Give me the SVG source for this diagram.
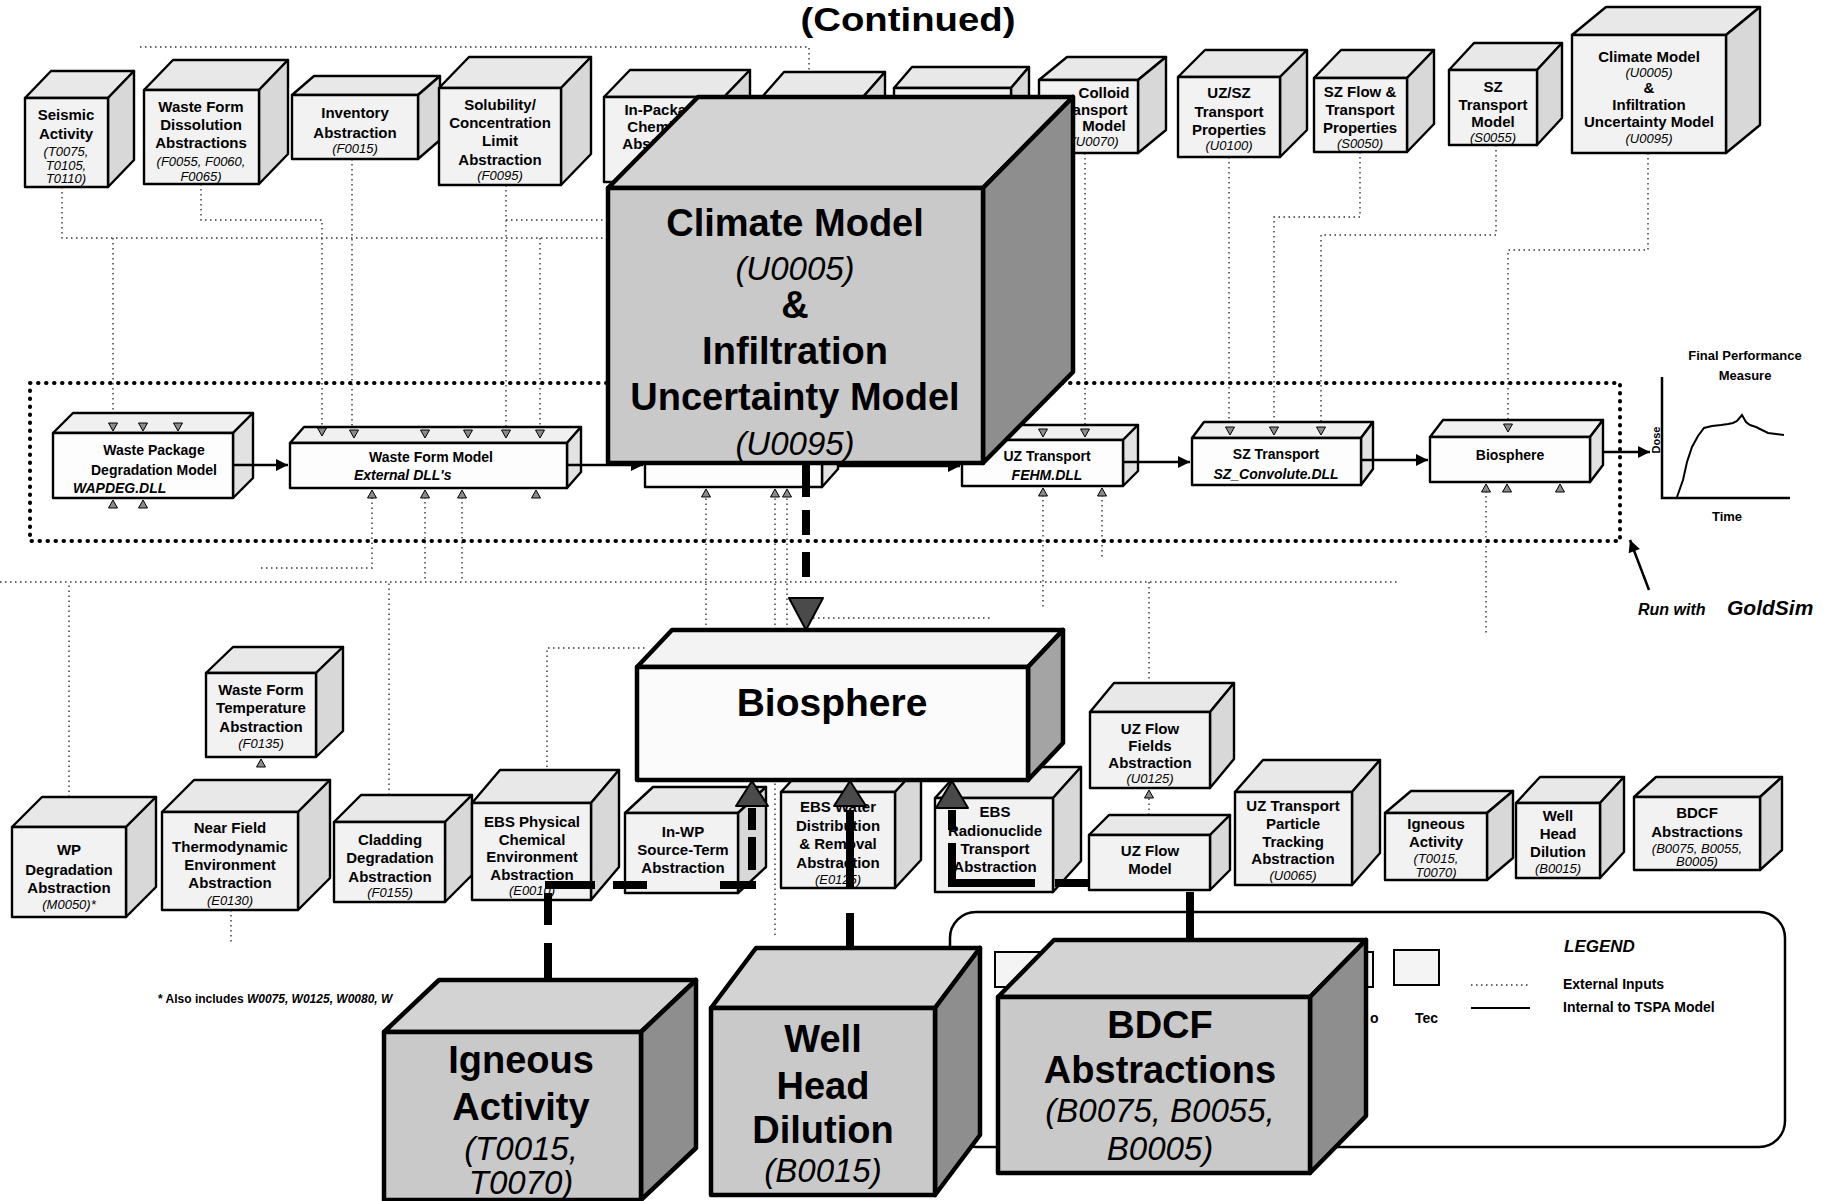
<svg xmlns="http://www.w3.org/2000/svg" width="1833" height="1201" viewBox="0 0 1833 1201">
<style>
text{font-family:"Liberation Sans",Arial,sans-serif;fill:#000}
.l{font-size:15px;font-weight:bold;text-anchor:middle}
.c{font-size:13px;font-style:italic;text-anchor:middle}
.m{font-size:14px;font-weight:bold}
.mi{font-size:14px;font-weight:bold;font-style:italic}
.B{font-size:38px;font-weight:bold;text-anchor:middle}
.Bi{font-size:33px;font-style:italic;text-anchor:middle}
.sf{fill:#f2f2f2;stroke:#000;stroke-width:2.4;stroke-linejoin:round}
.st{fill:#e8e8e8;stroke:#000;stroke-width:2.4;stroke-linejoin:round}
.ss{fill:#d8d8d8;stroke:#000;stroke-width:2.4;stroke-linejoin:round}
.mf{fill:#fdfdfd;stroke:#000;stroke-width:2.4;stroke-linejoin:round}
.mt{fill:#f0f0f0;stroke:#000;stroke-width:2.4;stroke-linejoin:round}
.ms{fill:#e2e2e2;stroke:#000;stroke-width:2.4;stroke-linejoin:round}
.gf{fill:#c9c9c9;stroke:#000;stroke-width:4.5;stroke-linejoin:round}
.gt{fill:#d3d3d3;stroke:#000;stroke-width:4.5;stroke-linejoin:round}
.gs{fill:#8e8e8e;stroke:#000;stroke-width:4.5;stroke-linejoin:round}
.wf{fill:#fbfbfb;stroke:#000;stroke-width:4.5;stroke-linejoin:round}
.wt{fill:#f3f3f3;stroke:#000;stroke-width:4.5;stroke-linejoin:round}
.ws{fill:#a4a4a4;stroke:#000;stroke-width:4.5;stroke-linejoin:round}
.dot{fill:none;stroke:#333;stroke-width:1.4;stroke-dasharray:1.5 3.5}
.gsb{fill:none;stroke:#000;stroke-width:4;stroke-dasharray:0.5 7.5;stroke-linecap:round}
.thk{fill:none;stroke:#000;stroke-width:8}
.ar{fill:none;stroke:#000;stroke-width:2.5}
.ah{fill:#4a4a4a;stroke:#000;stroke-width:2;stroke-linejoin:round}
.tri{fill:#8a8a8a;stroke:#000;stroke-width:1}
</style>
<defs>
<marker id="arr" viewBox="0 0 10 10" refX="10" refY="5" markerWidth="13" markerHeight="12" markerUnits="userSpaceOnUse" orient="auto"><path d="M0,0 L10,5 L0,10 Z" fill="#000"/></marker>
<path id="td" d="M-4.5,-8 L4.5,-8 L0,0 Z"/>
<path id="tu" d="M-4.5,8 L4.5,8 L0,0 Z"/>
</defs>
<rect width="1833" height="1201" fill="#fff"/>

<g id="title"><text x="908" y="31" font-size="34" font-weight="bold" text-anchor="middle" textLength="215" lengthAdjust="spacingAndGlyphs">(Continued)</text></g>

<!-- external input connectors (dotted) -->
<g id="external-connectors">
<path class="dot" d="M140,47 H809 V97"/>
<path class="dot" d="M62,187 V238 H607"/>
<path class="dot" d="M113,238 V422"/>
<path class="dot" d="M201,184 V220 H322 V428"/>
<path class="dot" d="M352,159 V428"/>
<path class="dot" d="M506,185 V428"/>
<path class="dot" d="M506,220 H607"/>
<path class="dot" d="M540,238 V428"/>
<path class="dot" d="M1085,153 V428"/>
<path class="dot" d="M1229,157 V427"/>
<path class="dot" d="M1360,152 V217 H1274 V427"/>
<path class="dot" d="M1496,145 V235 H1321 V427"/>
<path class="dot" d="M1648,153 V250 H1508 V424"/>
<path class="dot" d="M0,582 H1400"/>
<path class="dot" d="M261,568 H372 V492"/>
<path class="dot" d="M425,492 V582"/>
<path class="dot" d="M462,492 V582"/>
<path class="dot" d="M69,797 V582"/>
<path class="dot" d="M231,910 V945"/>
<path class="dot" d="M389,795 V582"/>
<path class="dot" d="M547,797 V648 H647"/>
<path class="dot" d="M706,630 V491"/>
<path class="dot" d="M775,935 V491"/>
<path class="dot" d="M787,630 V491"/>
<path class="dot" d="M813,618 H993"/>
<path class="dot" d="M1043,490 V607"/>
<path class="dot" d="M1102,490 V560"/>
<path class="dot" d="M1486,486 V633"/>
<path class="dot" d="M1149,582 V712"/>
<path class="dot" d="M1149,815 V798"/>
</g>

<g id="goldsim-boundary"><rect class="gsb" x="30" y="383" width="1590" height="158"/></g>

<!-- top row input boxes -->
<g id="seismic-activity">
<path class="st" d="M25,98 L51,71 L134,71 L108,98 Z"/>
<path class="ss" d="M108,98 L134,71 L134,160 L108,187 Z"/>
<rect class="sf" x="25" y="98" width="83" height="89"/>
<text class="l" x="66" y="120">Seismic</text>
<text class="l" x="66" y="139">Activity</text>
<text class="c" x="66" y="156">(T0075,</text>
<text class="c" x="66" y="170">T0105,</text>
<text class="c" x="66" y="183">T0110)</text>
</g>
<g id="waste-form-dissolution">
<path class="st" d="M144,90 L173,60 L288,60 L259,90 Z"/>
<path class="ss" d="M259,90 L288,60 L288,154 L259,184 Z"/>
<rect class="sf" x="144" y="90" width="115" height="94"/>
<text class="l" x="201" y="112">Waste Form</text>
<text class="l" x="201" y="130">Dissolution</text>
<text class="l" x="201" y="148">Abstractions</text>
<text class="c" x="201" y="166">(F0055, F0060,</text>
<text class="c" x="201" y="181">F0065)</text>
</g>
<g id="inventory-abstraction">
<path class="st" d="M292,95 L314,76 L440,76 L418,95 Z"/>
<path class="ss" d="M418,95 L440,76 L440,140 L418,159 Z"/>
<rect class="sf" x="292" y="95" width="126" height="64"/>
<text class="l" x="355" y="118">Inventory</text>
<text class="l" x="355" y="138">Abstraction</text>
<text class="c" x="355" y="153">(F0015)</text>
</g>
<g id="solubility-abstraction">
<path class="st" d="M439,88 L469,57 L591,57 L561,88 Z"/>
<path class="ss" d="M561,88 L591,57 L591,154 L561,185 Z"/>
<rect class="sf" x="439" y="88" width="122" height="97"/>
<text class="l" x="500" y="110">Solubility/</text>
<text class="l" x="500" y="128">Concentration</text>
<text class="l" x="500" y="146">Limit</text>
<text class="l" x="500" y="165">Abstraction</text>
<text class="c" x="500" y="180">(F0095)</text>
</g>
<g id="in-package-chemistry">
<path class="st" d="M604,97 L630,70 L750,70 L724,97 Z"/>
<path class="ss" d="M724,97 L750,70 L750,155 L724,182 Z"/>
<rect class="sf" x="604" y="97" width="120" height="85"/>
<text class="l" x="664" y="115">In-Package</text>
<text class="l" x="664" y="132">Chemistry</text>
<text class="l" x="664" y="149">Abstraction</text>
</g>
<g id="hidden-box-a">
<path class="st" d="M762,97 L784,72 L885,72 L863,97 Z"/>
<path class="ss" d="M863,97 L885,72 L885,155 L863,180 Z"/>
<rect class="sf" x="762" y="97" width="101" height="83"/>
</g>
<g id="hidden-box-b">
<path class="st" d="M894,88 L912,67 L1029,67 L1011,88 Z"/>
<path class="ss" d="M1011,88 L1029,67 L1029,149 L1011,170 Z"/>
<rect class="sf" x="894" y="88" width="117" height="82"/>
</g>
<g id="colloid-transport">
<path class="st" d="M1039,80 L1067,57 L1166,57 L1138,80 Z"/>
<path class="ss" d="M1138,80 L1166,57 L1166,130 L1138,153 Z"/>
<rect class="sf" x="1039" y="80" width="99" height="73"/>
<text class="l" x="1104" y="98">Colloid</text>
<text class="l" x="1093" y="115">Transport</text>
<text class="l" x="1104" y="131">Model</text>
<text class="c" x="1095" y="146">(U0070)</text>
</g>
<g id="uz-sz-transport-properties">
<path class="st" d="M1178,77 L1205,50 L1307,50 L1280,77 Z"/>
<path class="ss" d="M1280,77 L1307,50 L1307,130 L1280,157 Z"/>
<rect class="sf" x="1178" y="77" width="102" height="80"/>
<text class="l" x="1229" y="98">UZ/SZ</text>
<text class="l" x="1229" y="117">Transport</text>
<text class="l" x="1229" y="135">Properties</text>
<text class="c" x="1229" y="150">(U0100)</text>
</g>
<g id="sz-flow-transport-properties">
<path class="st" d="M1314,78 L1341,50 L1434,50 L1407,78 Z"/>
<path class="ss" d="M1407,78 L1434,50 L1434,124 L1407,152 Z"/>
<rect class="sf" x="1314" y="78" width="93" height="74"/>
<text class="l" x="1360" y="97">SZ Flow &amp;</text>
<text class="l" x="1360" y="115">Transport</text>
<text class="l" x="1360" y="133">Properties</text>
<text class="c" x="1360" y="148">(S0050)</text>
</g>
<g id="sz-transport-model">
<path class="st" d="M1449,70 L1474,43 L1562,43 L1537,70 Z"/>
<path class="ss" d="M1537,70 L1562,43 L1562,118 L1537,145 Z"/>
<rect class="sf" x="1449" y="70" width="88" height="75"/>
<text class="l" x="1493" y="92">SZ</text>
<text class="l" x="1493" y="110">Transport</text>
<text class="l" x="1493" y="127">Model</text>
<text class="c" x="1493" y="142">(S0055)</text>
</g>
<g id="climate-model-small">
<path class="st" d="M1572,35 L1606,7 L1760,7 L1726,35 Z"/>
<path class="ss" d="M1726,35 L1760,7 L1760,125 L1726,153 Z"/>
<rect class="sf" x="1572" y="35" width="154" height="118"/>
<text class="l" x="1649" y="62">Climate Model</text>
<text class="c" x="1649" y="77">(U0005)</text>
<text class="l" x="1649" y="93">&amp;</text>
<text class="l" x="1649" y="110">Infiltration</text>
<text class="l" x="1649" y="127">Uncertainty Model</text>
<text class="c" x="1649" y="143">(U0095)</text>
</g>

<!-- GoldSim model boxes -->
<g id="waste-package-degradation-model">
<path class="mt" d="M53,433 L73,413 L253,413 L233,433 Z"/>
<path class="ms" d="M233,433 L253,413 L253,478 L233,498 Z"/>
<rect class="mf" x="53" y="433" width="180" height="65"/>
<text class="m" x="154" y="455" text-anchor="middle">Waste Package</text>
<text class="m" x="154" y="475" text-anchor="middle">Degradation Model</text>
<text class="mi" x="73" y="493">WAPDEG.DLL</text>
</g>
<g id="waste-form-model">
<path class="mt" d="M290,443 L304,427 L581,427 L567,443 Z"/>
<path class="ms" d="M567,443 L581,427 L581,472 L567,488 Z"/>
<rect class="mf" x="290" y="443" width="277" height="45"/>
<text class="m" x="431" y="462" text-anchor="middle">Waste Form Model</text>
<text class="mi" x="354" y="480">External DLL's</text>
</g>
<g id="hidden-model-box">
<path class="mt" d="M645,445 L661,427 L838,427 L822,445 Z"/>
<path class="ms" d="M822,445 L838,427 L838,469 L822,487 Z"/>
<rect class="mf" x="645" y="445" width="177" height="42"/>
</g>
<g id="uz-transport">
<path class="mt" d="M962,440 L977,425 L1138,425 L1123,440 Z"/>
<path class="ms" d="M1123,440 L1138,425 L1138,471 L1123,486 Z"/>
<rect class="mf" x="962" y="440" width="161" height="46"/>
<text class="m" x="1047" y="461" text-anchor="middle">UZ Transport</text>
<text class="mi" x="1047" y="480" text-anchor="middle">FEHM.DLL</text>
</g>
<g id="sz-transport">
<path class="mt" d="M1192,438 L1204,422 L1373,422 L1361,438 Z"/>
<path class="ms" d="M1361,438 L1373,422 L1373,469 L1361,485 Z"/>
<rect class="mf" x="1192" y="438" width="169" height="47"/>
<text class="m" x="1276" y="459" text-anchor="middle">SZ Transport</text>
<text class="mi" x="1276" y="479" text-anchor="middle">SZ_Convolute.DLL</text>
</g>
<g id="biosphere-model">
<path class="mt" d="M1430,437 L1443,420 L1603,420 L1590,437 Z"/>
<path class="ms" d="M1590,437 L1603,420 L1603,465 L1590,482 Z"/>
<rect class="mf" x="1430" y="437" width="160" height="45"/>
<text class="m" x="1510" y="460" text-anchor="middle">Biosphere</text>
</g>

<g id="input-arrowheads">
<use href="#td" class="tri" x="113" y="431"/><use href="#td" class="tri" x="143" y="431"/><use href="#td" class="tri" x="178" y="431"/>
<use href="#tu" class="tri" x="113" y="500"/><use href="#tu" class="tri" x="143" y="500"/>
<use href="#td" class="tri" x="322" y="436"/><use href="#td" class="tri" x="354" y="438"/><use href="#td" class="tri" x="425" y="438"/><use href="#td" class="tri" x="468" y="438"/><use href="#td" class="tri" x="506" y="438"/><use href="#td" class="tri" x="540" y="438"/>
<use href="#tu" class="tri" x="372" y="490"/><use href="#tu" class="tri" x="425" y="490"/><use href="#tu" class="tri" x="462" y="490"/><use href="#tu" class="tri" x="536" y="490"/>
<use href="#tu" class="tri" x="706" y="489"/><use href="#tu" class="tri" x="775" y="489"/><use href="#tu" class="tri" x="787" y="489"/>
<use href="#td" class="tri" x="1043" y="437"/><use href="#td" class="tri" x="1085" y="437"/>
<use href="#tu" class="tri" x="1043" y="488"/><use href="#tu" class="tri" x="1102" y="488"/>
<use href="#td" class="tri" x="1230" y="435"/><use href="#td" class="tri" x="1274" y="435"/><use href="#td" class="tri" x="1321" y="435"/>
<use href="#td" class="tri" x="1508" y="432"/>
<use href="#tu" class="tri" x="1486" y="484"/><use href="#tu" class="tri" x="1507" y="484"/><use href="#tu" class="tri" x="1560" y="484"/>
<use href="#tu" class="tri" x="261" y="759"/>
<use href="#tu" class="tri" x="1149" y="790"/>
</g>

<g id="model-flow">
<path class="ar" d="M233,465 H288" marker-end="url(#arr)"/>
<path class="ar" d="M567,465 H643" marker-end="url(#arr)"/>
<path class="ar" d="M838,466 H960" marker-end="url(#arr)"/>
<path class="ar" d="M1123,462 H1190" marker-end="url(#arr)"/>
<path class="ar" d="M1361,460 H1428" marker-end="url(#arr)"/>
<path class="ar" d="M1603,452 H1650" marker-end="url(#arr)"/>
</g>

<g id="climate-model">
<path class="gt" d="M608,188 L698,97 L1073,97 L983,188 Z"/>
<path class="gs" d="M983,188 L1073,97 L1073,372 L983,463 Z"/>
<rect class="gf" x="608" y="188" width="375" height="275"/>
<text class="B" x="795" y="236">Climate Model</text>
<text class="Bi" x="795" y="280">(U0005)</text>
<text class="B" x="795" y="318">&amp;</text>
<text class="B" x="795" y="364">Infiltration</text>
<text class="B" x="795" y="410">Uncertainty Model</text>
<text class="Bi" x="795" y="455" font-size="31">(U0095)</text>
</g>

<g id="performance-graph">
<path d="M1662,377 V498 H1790" fill="none" stroke="#000" stroke-width="2.5"/>
<path d="M1677,497 L1683,480 L1687,462 L1692,447 L1698,436 L1704,428 L1712,426 L1721,425 L1728,424 L1733,423 L1737,421 L1742,415 L1746,422 L1750,425 L1756,427 L1762,430 L1768,433 L1776,434 L1784,435" fill="none" stroke="#000" stroke-width="2"/>
<text x="1745" y="360" font-size="13" font-weight="bold" text-anchor="middle">Final Performance</text>
<text x="1745" y="380" font-size="13" font-weight="bold" text-anchor="middle">Measure</text>
<text x="1656" y="444" font-size="11" font-weight="bold" text-anchor="middle" transform="rotate(-90 1656 440)">Dose</text>
<text x="1727" y="521" font-size="13" font-weight="bold" text-anchor="middle">Time</text>
</g>
<g id="goldsim-note">
<path class="ar" d="M1649,590 L1630,540" marker-end="url(#arr)"/>
<text x="1638" y="615" font-size="16" font-weight="bold" font-style="italic">Run with</text>
<text x="1727" y="615" font-size="21" font-weight="bold" font-style="italic">GoldSim</text>
</g>

<!-- lower section -->
<g id="waste-form-temperature">
<path class="st" d="M206,673 L233,647 L343,647 L316,673 Z"/>
<path class="ss" d="M316,673 L343,647 L343,731 L316,757 Z"/>
<rect class="sf" x="206" y="673" width="110" height="84"/>
<text class="l" x="261" y="695">Waste Form</text>
<text class="l" x="261" y="713">Temperature</text>
<text class="l" x="261" y="732">Abstraction</text>
<text class="c" x="261" y="748">(F0135)</text>
</g>
<g id="wp-degradation">
<path class="st" d="M12,827 L42,797 L156,797 L126,827 Z"/>
<path class="ss" d="M126,827 L156,797 L156,887 L126,917 Z"/>
<rect class="sf" x="12" y="827" width="114" height="90"/>
<text class="l" x="69" y="855">WP</text>
<text class="l" x="69" y="875">Degradation</text>
<text class="l" x="69" y="893">Abstraction</text>
<text class="c" x="69" y="909">(M0050)*</text>
</g>
<g id="near-field-environment">
<path class="st" d="M162,812 L194,780 L330,780 L298,812 Z"/>
<path class="ss" d="M298,812 L330,780 L330,878 L298,910 Z"/>
<rect class="sf" x="162" y="812" width="136" height="98"/>
<text class="l" x="230" y="833">Near Field</text>
<text class="l" x="230" y="852">Thermodynamic</text>
<text class="l" x="230" y="870">Environment</text>
<text class="l" x="230" y="888">Abstraction</text>
<text class="c" x="230" y="905">(E0130)</text>
</g>
<g id="cladding-degradation">
<path class="st" d="M334,822 L361,795 L472,795 L445,822 Z"/>
<path class="ss" d="M445,822 L472,795 L472,875 L445,902 Z"/>
<rect class="sf" x="334" y="822" width="111" height="80"/>
<text class="l" x="390" y="845">Cladding</text>
<text class="l" x="390" y="863">Degradation</text>
<text class="l" x="390" y="882">Abstraction</text>
<text class="c" x="390" y="897">(F0155)</text>
</g>
<g id="ebs-physical-chemical">
<path class="st" d="M472,803 L500,770 L619,770 L591,803 Z"/>
<path class="ss" d="M591,803 L619,770 L619,867 L591,900 Z"/>
<rect class="sf" x="472" y="803" width="119" height="97"/>
<text class="l" x="532" y="827">EBS Physical</text>
<text class="l" x="532" y="845">Chemical</text>
<text class="l" x="532" y="862">Environment</text>
<text class="l" x="532" y="880">Abstraction</text>
<text class="c" x="532" y="895">(E0010)</text>
</g>
<g id="in-wp-source-term">
<path class="st" d="M625,813 L653,787 L766,787 L738,813 Z"/>
<path class="ss" d="M738,813 L766,787 L766,867 L738,893 Z"/>
<rect class="sf" x="625" y="813" width="113" height="80"/>
<text class="l" x="683" y="837">In-WP</text>
<text class="l" x="683" y="855">Source-Term</text>
<text class="l" x="683" y="873">Abstraction</text>
</g>
<g id="ebs-water-distribution">
<path class="st" d="M781,792 L807,764 L921,764 L895,792 Z"/>
<path class="ss" d="M895,792 L921,764 L921,860 L895,888 Z"/>
<rect class="sf" x="781" y="792" width="114" height="96"/>
<text class="l" x="838" y="812">EBS Water</text>
<text class="l" x="838" y="831">Distribution</text>
<text class="l" x="838" y="849">&amp; Removal</text>
<text class="l" x="838" y="868">Abstraction</text>
<text class="c" x="838" y="884">(E0125)</text>
</g>
<g id="ebs-radionuclide-transport">
<path class="st" d="M935,798 L963,767 L1081,767 L1053,798 Z"/>
<path class="ss" d="M1053,798 L1081,767 L1081,861 L1053,892 Z"/>
<rect class="sf" x="935" y="798" width="118" height="94"/>
<text class="l" x="995" y="817">EBS</text>
<text class="l" x="995" y="836">Radionuclide</text>
<text class="l" x="995" y="854">Transport</text>
<text class="l" x="995" y="872">Abstraction</text>
</g>
<g id="uz-flow-fields">
<path class="st" d="M1090,712 L1114,683 L1234,683 L1210,712 Z"/>
<path class="ss" d="M1210,712 L1234,683 L1234,759 L1210,788 Z"/>
<rect class="sf" x="1090" y="712" width="120" height="76"/>
<text class="l" x="1150" y="734">UZ Flow</text>
<text class="l" x="1150" y="751">Fields</text>
<text class="l" x="1150" y="768">Abstraction</text>
<text class="c" x="1150" y="783">(U0125)</text>
</g>
<g id="uz-flow-model">
<path class="st" d="M1089,835 L1109,815 L1230,815 L1210,835 Z"/>
<path class="ss" d="M1210,835 L1230,815 L1230,870 L1210,890 Z"/>
<rect class="sf" x="1089" y="835" width="121" height="55"/>
<text class="l" x="1150" y="856">UZ Flow</text>
<text class="l" x="1150" y="874">Model</text>
</g>
<g id="uz-transport-particle-tracking">
<path class="st" d="M1235,792 L1263,760 L1380,760 L1352,792 Z"/>
<path class="ss" d="M1352,792 L1380,760 L1380,853 L1352,885 Z"/>
<rect class="sf" x="1235" y="792" width="117" height="93"/>
<text class="l" x="1293" y="811">UZ Transport</text>
<text class="l" x="1293" y="829">Particle</text>
<text class="l" x="1293" y="847">Tracking</text>
<text class="l" x="1293" y="864">Abstraction</text>
<text class="c" x="1293" y="880">(U0065)</text>
</g>
<g id="igneous-activity-small">
<path class="st" d="M1385,813 L1411,791 L1513,791 L1487,813 Z"/>
<path class="ss" d="M1487,813 L1513,791 L1513,858 L1487,880 Z"/>
<rect class="sf" x="1385" y="813" width="102" height="67"/>
<text class="l" x="1436" y="829">Igneous</text>
<text class="l" x="1436" y="847">Activity</text>
<text class="c" x="1436" y="863">(T0015,</text>
<text class="c" x="1436" y="877">T0070)</text>
</g>
<g id="well-head-dilution-small">
<path class="st" d="M1516,803 L1540,777 L1624,777 L1600,803 Z"/>
<path class="ss" d="M1600,803 L1624,777 L1624,852 L1600,878 Z"/>
<rect class="sf" x="1516" y="803" width="84" height="75"/>
<text class="l" x="1558" y="821">Well</text>
<text class="l" x="1558" y="839">Head</text>
<text class="l" x="1558" y="857">Dilution</text>
<text class="c" x="1558" y="873">(B0015)</text>
</g>
<g id="bdcf-abstractions-small">
<path class="st" d="M1634,797 L1656,777 L1782,777 L1760,797 Z"/>
<path class="ss" d="M1760,797 L1782,777 L1782,850 L1760,870 Z"/>
<rect class="sf" x="1634" y="797" width="126" height="73"/>
<text class="l" x="1697" y="818">BDCF</text>
<text class="l" x="1697" y="837">Abstractions</text>
<text class="c" x="1697" y="853">(B0075, B0055,</text>
<text class="c" x="1697" y="866">B0005)</text>
</g>

<g id="biosphere">
<path class="wt" d="M637,667 L672,630 L1063,630 L1028,667 Z"/>
<path class="ws" d="M1028,667 L1063,630 L1063,743 L1028,780 Z"/>
<rect class="wf" x="637" y="667" width="391" height="113"/>
<text x="832" y="716" font-size="39" font-weight="bold" text-anchor="middle">Biosphere</text>
</g>

<g id="footnote"><text x="158" y="1003" font-size="12" font-weight="bold">* Also includes <tspan font-style="italic">W0075, W0125, W0080, W</tspan></text></g>

<g id="legend">
<rect x="950" y="912" width="835" height="235" rx="26" fill="#fff" stroke="#000" stroke-width="2.5"/>
<rect x="995" y="952" width="45" height="35" fill="#f4f4f4" stroke="#000" stroke-width="2"/>
<rect x="1328" y="952" width="45" height="35" fill="#f4f4f4" stroke="#000" stroke-width="2"/>
<rect x="1394" y="950" width="45" height="35" fill="#f4f4f4" stroke="#000" stroke-width="2"/>
<text x="1370" y="1023" font-size="14" font-weight="bold">o</text>
<text x="1415" y="1023" font-size="14" font-weight="bold">Tec</text>
<text x="1564" y="952" font-size="17" font-weight="bold" font-style="italic">LEGEND</text>
<path class="dot" d="M1471,985 H1530"/>
<path d="M1471,1008 H1530" stroke="#000" stroke-width="2"/>
<text x="1563" y="989" font-size="14" font-weight="bold">External Inputs</text>
<text x="1563" y="1012" font-size="14" font-weight="bold">Internal to TSPA Model</text>
</g>

<g id="igneous-activity">
<path class="gt" d="M384,1032 L439,980 L696,980 L641,1032 Z"/>
<path class="gs" d="M641,1032 L696,980 L696,1148 L641,1200 Z"/>
<rect class="gf" x="384" y="1032" width="257" height="168"/>
<text class="B" x="521" y="1073">Igneous</text>
<text class="B" x="521" y="1120">Activity</text>
<text class="Bi" x="521" y="1160">(T0015,</text>
<text class="Bi" x="521" y="1194">T0070)</text>
</g>
<g id="well-head-dilution">
<path class="gt" d="M711,1008 L756,948 L980,948 L935,1008 Z"/>
<path class="gs" d="M935,1008 L980,948 L980,1135 L935,1195 Z"/>
<rect class="gf" x="711" y="1008" width="224" height="187"/>
<text class="B" x="823" y="1052">Well</text>
<text class="B" x="823" y="1099">Head</text>
<text class="B" x="823" y="1143">Dilution</text>
<text class="Bi" x="823" y="1182">(B0015)</text>
</g>
<g id="bdcf-abstractions">
<path class="gt" d="M998,997 L1054,940 L1366,940 L1310,997 Z"/>
<path class="gs" d="M1310,997 L1366,940 L1366,1116 L1310,1173 Z"/>
<rect class="gf" x="998" y="997" width="312" height="176"/>
<text class="B" x="1160" y="1038">BDCF</text>
<text class="B" x="1160" y="1083">Abstractions</text>
<text class="Bi" x="1160" y="1122">(B0075, B0055,</text>
<text class="Bi" x="1160" y="1160">B0005)</text>
</g>

<!-- internal thick connectors -->
<g id="internal-connectors">
<path class="thk" d="M806,463 V497 M806,510 V535 M806,552 V577"/>
<path class="ah" d="M789,598 L823,598 L806,630 Z"/>
<path class="thk" d="M548,980 V943 M548,925 V893 M545,885 H595 M613,885 H647 M720,885 H756 M752,870 V837 M752,830 V808"/>
<path class="ah" d="M736,806 L768,806 L752,781 Z"/>
<path class="thk" d="M850,948 V913 M850,888 V810"/>
<path class="ah" d="M834,806 L866,806 L850,781 Z"/>
<path class="thk" d="M1190,940 V892 M1089,883 H1055 M1035,883 H948 M952,887 V843 M952,830 V810"/>
<path class="ah" d="M936,808 L968,808 L952,781 Z"/>
</g>
</svg>
